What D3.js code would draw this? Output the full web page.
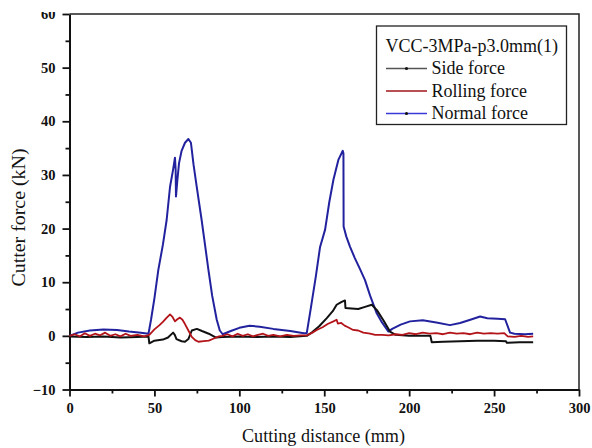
<!DOCTYPE html>
<html lang="en">
<head>
<meta charset="UTF-8">
<title>Cutter force vs cutting distance</title>
<script src="https://cdnjs.cloudflare.com/ajax/libs/d3/7.8.5/d3.min.js"></script>
<style>
    body { margin: 0; background: #fff; }
    svg { display: block; font-family: "Liberation Serif", "Times New Roman", serif; }
    .tick text { font-family: "Liberation Serif", "Times New Roman", serif; font-size: 14.5px; font-weight: bold; fill: #111; }
    .domain, .tick line { stroke: #111; }
</style>
</head>
<body>
<svg id="chart" width="592" height="448"></svg>
<script>
// Data: [cutting distance (mm), force (kN)]
const normalForce = [
    [0,0],[5,0.6],[12,1.0],[20,1.2],[28,1.1],[35,0.8],[42,0.6],[46.5,0.4],[48,3],[50,7],
    [52.3,12.3],[55,17],[57.2,21.6],[59.2,27.8],[61,31],[62.1,33.2],[62.5,31],[62.7,26],
    [63.5,29],[64.5,32.2],[66,34.5],[68,36],[70,36.7],[71.5,36],[73,32],[74.9,27.8],
    [77.8,21.6],[80,16.5],[81.8,12.3],[84,7.5],[86.7,3],[88.5,1],[90.2,0.3],[95,0.9],
    [100,1.5],[106,1.9],[112,1.7],[120,1.3],[130,0.9],[138,0.5],[139.7,0.5],[142,5],
    [145,11],[147.5,16.5],[150.5,19.8],[153,25],[155.4,29.1],[158.3,32.8],[160.9,34.5],
    [161.3,34],[161.4,20.4],[163,18.5],[165.2,16.6],[168,14.5],[171,12.5],[174,10.4],
    [177,7.5],[180.9,4.2],[184,2.5],[187.8,0.8],[190,1.3],[195,2.1],[200.5,2.7],[208,2.9],
    [216,2.5],[224,2.0],[230,2.4],[236,3.0],[241.8,3.6],[246,3.3],[252,3.2],[256.5,3.1],
    [259.4,0.6],[262,0.4],[268,0.3],[273,0.4]
];
const sideForce = [
    [0,-0.1],[10,-0.2],[20,-0.1],[30,-0.3],[40,-0.2],[46.5,-0.1],[47,-1.4],[50,-0.9],
    [55,-0.7],[58,-0.3],[61,0.6],[62,0.2],[63,-0.6],[66,-1.0],[68,-1.1],[70,-0.6],[72,1.0],
    [75,1.3],[78,0.9],[82,0.4],[86,-0.3],[90,-0.2],[100,-0.1],[110,-0.2],[120,-0.1],
    [130,-0.2],[139.7,0],[143,0.7],[147,1.8],[151.5,3.3],[155,4.6],[157.3,5.8],[160,6.3],
    [162.2,6.6],[162.5,5.2],[166,5.1],[170,5.0],[174,5.4],[178,5.8],[181,4.8],[185,2.8],
    [188.7,0.8],[192,0.2],[200,0],[206,0],[212.5,0],[213.3,-1.2],[220,-1.1],[230,-1.0],
    [240,-0.9],[250,-0.9],[257,-1.0],[257.5,-1.3],[265,-1.2],[273,-1.2]
];
const rollingForce = [
    [0,0],[3,0.3],[6,-0.1],[9,0.5],[12,0],[15,0.4],[18,0.1],[21,0.6],[24,0],[27,0.3],
    [30,-0.1],[33,0.4],[36,0],[40,0.2],[44,-0.1],[47,0.2],[50,1.2],[53,2.0],[55,2.6],
    [57,3.3],[59.2,4.0],[60.5,3.6],[62.1,2.7],[63.5,3.1],[65,3.4],[66.5,3.0],[68,2.2],
    [70,1.0],[72,-0.2],[74,-0.8],[75.9,-1.1],[79,-1.0],[82,-0.9],[85,-0.5],[88,-0.1],
    [90,0],[93,0.3],[96,-0.1],[99,0.4],[102,0],[105,0.3],[108,-0.1],[111,0.2],[114,0.4],
    [117,0],[120,0.2],[124,-0.1],[128,0.2],[132,0],[136,0.1],[140,0.1],[143,0.6],
    [145.6,1.1],[149,1.6],[152,2.2],[155.4,2.7],[157.3,3.0],[158,2.3],[160,2.4],[162,1.9],
    [164,1.6],[167,1.1],[170,1.0],[173,0.6],[177,0.4],[180,0.2],[184,0.2],[188,0.1],
    [192,0.3],[196,0.2],[200,0.5],[204,0.3],[208,0.6],[212,0.4],[216,0.5],[220,0.3],
    [224,0.6],[228,0.4],[232,0.5],[236,0.3],[240,0.6],[244,0.4],[248,0.5],[252,0.4],
    [256,0.5],[258,-0.1],[262,-0.2],[266,0],[270,-0.2],[273,-0.1]
];

const xTicks = [0, 50, 100, 150, 200, 250, 300];
const xMinor = [25, 75, 125, 175, 225, 275];
const yTicks = [-10, 0, 10, 20, 30, 40, 50, 60];
const yMinor = [-5, 5, 15, 25, 35, 45, 55];

const legendTitle = "VCC-3MPa-p3.0mm(1)";
const seriesNames = ["Side force", "Rolling force", "Normal force"];

const serif = "Liberation Serif, Times New Roman, serif";

// Layout
const svg = d3.select("#chart");
const plot = { left: 69.5, right: 579, top: 14, bottom: 389.5 };

const x = d3.scaleLinear().domain([0, 300]).range([plot.left, plot.right]);
const y = d3.scaleLinear().domain([-10, 60]).range([plot.bottom, plot.top]);

// Frame (top and right)
svg.append("path")
    .attr("d", `M${plot.left},${plot.top}H${plot.right}V${plot.bottom}`)
    .attr("fill", "none")
    .attr("stroke", "#222")
    .attr("stroke-width", 1.5);

// Axes
svg.append("g")
    .attr("transform", `translate(0,${plot.bottom})`)
    .call(d3.axisBottom(x).tickValues(xTicks).tickSize(7).tickSizeOuter(0).tickPadding(6))
    .attr("font-family", serif);
svg.append("g")
    .attr("transform", `translate(0,${plot.bottom})`)
    .call(d3.axisBottom(x).tickValues(xMinor).tickSize(4).tickFormat(""))
    .select(".domain").remove();

svg.append("g")
    .attr("transform", `translate(${plot.left},0)`)
    .call(d3.axisLeft(y).tickValues(yTicks).tickSize(7).tickSizeOuter(0).tickPadding(7))
    .attr("font-family", serif);
svg.append("g")
    .attr("transform", `translate(${plot.left},0)`)
    .call(d3.axisLeft(y).tickValues(yMinor).tickSize(4).tickFormat(""))
    .select(".domain").remove();

svg.selectAll(".domain").attr("stroke-width", 2);
svg.selectAll(".tick line").attr("stroke-width", 1.8);

// the "60" label is cut off at the top in the original
svg.append("rect").attr("x", 30).attr("y", 0).attr("width", 37).attr("height", 12).attr("fill", "#fff");

// Axis titles
svg.append("text")
    .attr("x", 323.5)
    .attr("y", 442)
    .attr("text-anchor", "middle")
    .attr("font-size", 18.5)
    .attr("textLength", 163)
    .attr("lengthAdjust", "spacingAndGlyphs")
    .attr("fill", "#111")
    .text("Cutting distance (mm)");

svg.append("text")
    .attr("transform", "translate(25,217.5) rotate(-90)")
    .attr("text-anchor", "middle")
    .attr("font-size", 19)
    .attr("textLength", 138)
    .attr("lengthAdjust", "spacingAndGlyphs")
    .attr("fill", "#111")
    .text("Cutter force (kN)");

// Lines
const line = d3.line().x(d => x(d[0])).y(d => y(d[1]));

svg.append("path").datum(normalForce)
    .attr("d", line).attr("fill", "none")
    .attr("stroke", "#22229f").attr("stroke-width", 2).attr("stroke-linejoin", "round");
svg.append("path").datum(sideForce)
    .attr("d", line).attr("fill", "none")
    .attr("stroke", "#111").attr("stroke-width", 2).attr("stroke-linejoin", "round");
svg.append("path").datum(rollingForce)
    .attr("d", line).attr("fill", "none")
    .attr("stroke", "#b3141a").attr("stroke-width", 1.8).attr("stroke-linejoin", "round");

// Legend
const legend = svg.append("g");
legend.append("rect")
    .attr("x", 376.5).attr("y", 26)
    .attr("width", 190).attr("height", 98.5)
    .attr("fill", "#fff").attr("stroke", "#222").attr("stroke-width", 1.3);

legend.append("text")
    .attr("x", 385.5).attr("y", 52)
    .attr("font-size", 18).attr("fill", "#111")
    .text(legendTitle);

const legendColors = ["#555", "#a01418", "#3a3ad8"];
const legendMarker = [true, false, true];
seriesNames.forEach((name, i) => {
    const ly = 68.5 + i * 22.5;
    legend.append("line")
        .attr("x1", 386).attr("x2", 427)
        .attr("y1", ly).attr("y2", ly)
        .attr("stroke", legendColors[i]).attr("stroke-width", 1.6);
    if (legendMarker[i]) {
        legend.append("circle")
            .attr("cx", 406.5).attr("cy", ly).attr("r", 1.6)
            .attr("fill", "#111");
    }
    legend.append("text")
        .attr("x", 431.5).attr("y", ly + 5.5)
        .attr("font-size", 18).attr("fill", "#111")
        .text(name);
});
</script>
</body>
</html>
